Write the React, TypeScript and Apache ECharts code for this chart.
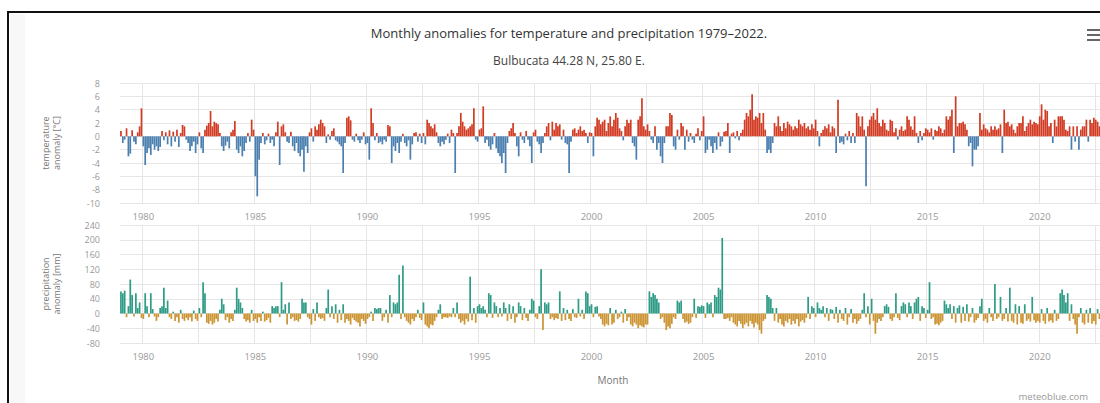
import React, { useEffect, useRef } from "react";
import * as echarts from "echarts";

const startYear = 1979;
const endYear = 2022;
const yearTickLabels = ["1980", "1985", "1990", "1995", "2000", "2005", "2010", "2015", "2020"];

const titleText = "Monthly anomalies for temperature and precipitation 1979\u20132022.";
const subtitleText = "Bulbucata 44.28 N, 25.80 E.";

// Monthly temperature anomaly [°C], Jan..Dec, one row per year 1979..2022
const tempAnomaly: number[] = [
  0.8, -1.0, -0.5, 1.2, -3.0, -2.6, 0.9, -0.8, -1.2, 0.6, 1.5, 4.2, // 1979
  -1.5, -4.3, -2.5, -1.8, -2.8, -1.2, -2.0, -1.5, -2.2, -1.6, 0.8, -0.6, // 1980
  0.6, -1.2, 0.9, -1.5, 0.7, -0.8, 1.0, -1.6, 0.5, 1.7, 1.5, -0.5, // 1981
  -1.0, -2.2, -1.5, -0.8, -2.5, -1.2, 0.6, -1.8, -2.5, 1.0, 1.6, 2.0, // 1982
  3.8, 1.5, 2.2, 2.0, 1.8, 0.5, -1.5, -2.2, -1.4, -0.8, -1.8, 0.6, // 1983
  1.0, 2.3, -2.0, -2.5, -1.5, -3.0, -2.2, -1.0, 0.5, -0.8, 2.5, 1.0, // 1984
  -6.0, -9.0, -3.5, -1.0, 0.5, -1.2, -0.6, 0.4, -1.0, -0.5, -1.5, 0.6, // 1985
  2.2, -4.3, 1.5, 1.8, 0.6, -0.8, -1.0, 0.7, -1.5, -2.2, -1.0, -2.5, // 1986
  -3.0, -2.0, -5.3, -1.5, -2.5, 0.6, 1.2, -0.8, 1.5, 1.0, 1.8, 2.5, // 1987
  2.0, 1.5, -1.0, 0.3, -0.5, 0.8, 1.2, -0.6, -0.8, -1.2, -1.5, -5.5, // 1988
  -1.0, 2.8, 3.0, 2.4, -0.5, -0.8, 0.4, -0.6, -1.0, -0.5, 0.6, -1.2, // 1989
  -1.0, -3.5, 4.2, 2.0, -0.6, 0.5, -1.0, -0.8, -1.2, -0.5, -0.8, 1.7, // 1990
  1.5, -4.0, -1.5, -2.2, -1.0, -2.5, -0.8, 0.4, -1.0, -1.5, -0.6, -3.5, // 1991
  -1.2, 0.5, 0.6, -0.8, 0.4, -1.0, 0.5, -1.2, 2.5, 2.0, 1.5, 1.2, // 1992
  1.8, 0.6, -1.0, -1.5, -0.8, -1.2, -0.5, 0.4, -1.0, 1.0, 0.5, -5.5, // 1993
  0.5, 1.5, 3.5, 2.2, 1.5, 1.0, 1.2, 1.5, 1.8, 4.2, -0.5, -0.8, // 1994
  1.0, 1.2, 4.5, -1.0, -0.5, -1.5, -2.0, -1.2, 0.5, -1.8, -2.5, -3.0, // 1995
  -4.0, -2.5, -5.5, -1.0, 0.8, 1.2, 2.0, 0.5, -1.5, -3.0, 0.6, -0.5, // 1996
  -1.0, 0.8, -0.5, -1.5, -4.0, 0.6, 1.0, -0.8, -1.2, -2.5, -1.0, 0.5, // 1997
  1.5, 2.0, -0.6, 2.2, 1.0, 2.0, 1.5, 1.8, -0.5, 1.0, -1.0, -1.2, // 1998
  -5.5, -0.8, 1.0, 1.2, 0.5, 1.0, 1.5, 0.8, 1.0, 0.5, -1.0, 0.6, // 1999
  0.5, -3.0, 1.5, 2.8, 2.5, 1.8, 2.2, 2.5, 0.8, 2.0, 3.0, 1.5, // 2000
  2.5, 3.5, 2.8, 1.2, 0.8, -0.6, 1.5, 2.5, 2.0, 2.5, -1.0, -1.5, // 2001
  -3.5, 2.5, 3.0, 5.7, 1.5, 1.0, 1.8, 0.8, -0.5, -1.0, 1.5, -2.0, // 2002
  -1.0, -3.0, -4.0, -1.0, 1.5, 1.5, 3.5, 3.2, -1.5, -2.0, 1.0, -0.5, // 2003
  2.0, 1.5, -2.0, 1.0, -0.8, 0.5, -0.5, -1.0, 0.4, 1.2, -0.6, 0.8, // 2004
  3.0, -2.5, -2.0, -0.5, -1.5, -2.5, -1.0, -2.0, 0.6, -1.5, -0.8, 0.7, // 2005
  0.8, 2.0, -2.5, 0.4, 0.6, -0.3, 0.8, -0.6, 0.5, 1.0, 2.5, 3.5, // 2006
  3.0, 4.0, 6.3, 2.5, 3.0, 2.8, 3.5, 2.0, 3.5, 1.0, -2.5, -2.0, // 2007
  -2.5, -1.0, 2.0, 1.5, 3.0, 1.5, 0.8, 2.0, 1.2, 2.2, 1.8, 1.5, // 2008
  1.0, 1.5, 1.2, 2.5, 1.8, 1.5, 2.0, 1.2, 1.5, 1.0, 1.8, 1.2, // 2009
  2.5, 0.8, -1.5, 0.5, 1.0, 1.5, 1.2, 1.8, 0.6, 1.5, 1.2, -2.5, // 2010
  5.5, -1.0, -0.8, -1.2, 0.4, -0.6, 0.8, -1.0, 0.5, -1.0, 3.5, 3.0, // 2011
  1.5, 3.0, 1.0, -7.5, 1.5, 2.5, 3.0, 3.5, 2.5, 4.2, 2.0, 1.5, // 2012
  2.5, 2.0, 1.0, 0.8, 2.5, 2.3, 0.6, 1.2, -0.5, 1.0, 1.5, 0.8, // 2013
  1.0, 3.0, 2.5, 1.5, 1.0, 3.0, 0.5, -1.0, 0.8, -0.6, 0.5, 1.2, // 2014
  1.0, 0.6, 1.2, -0.5, 1.0, 0.8, 1.5, 1.2, 0.5, 1.0, 3.0, 2.5, // 2015
  3.0, 4.0, -2.5, 6.0, 1.5, 2.0, 2.0, 2.2, 1.8, 1.0, -1.5, -1.0, // 2016
  -4.5, -2.0, -2.0, -1.5, 3.5, 1.0, 1.8, 1.2, 1.0, 0.6, 1.5, 1.0, // 2017
  1.5, 1.0, 1.2, 1.8, -2.5, 4.0, 2.0, 2.2, 1.5, 1.8, 1.0, 0.5, // 2018
  1.5, 2.0, 2.0, 3.0, 0.8, 1.5, 2.0, 2.5, 1.8, 2.2, 2.0, 1.8, // 2019
  3.0, 4.8, 2.5, 4.0, 3.8, 1.5, 2.0, -1.0, 2.5, 1.5, 3.0, 3.0, // 2020
  3.0, 2.5, 1.0, 0.8, 1.5, -2.0, 1.5, -0.8, 1.5, -2.0, 1.0, 1.5, // 2021
  1.5, 2.5, -0.8, 2.5, 2.0, 2.8, 2.5, 2.2, 1.5, 1.5, 1.0, 2.0, // 2022
];

// Monthly precipitation anomaly [mm], Jan..Dec, one row per year 1979..2022
const precipAnomaly: number[] = [
  60, 55, 62, -10, 20, 92, 50, -8, 55, 15, 30, -12, // 1979
  -15, 55, 20, -10, 55, 12, -8, -20, -10, 15, 20, 70, // 1980
  15, 35, -10, -15, 5, -20, -10, -25, 10, -15, -20, -12, // 1981
  -18, -10, -22, 8, -15, -20, 15, -10, 85, 55, -25, -28, // 1982
  -20, -30, -25, -15, -22, 10, 40, 25, -18, -10, -25, -15, // 1983
  -20, 10, 70, 40, 30, 15, -15, -22, -18, -25, 10, -20, // 1984
  -15, -25, -10, -20, 5, -22, -18, -12, -25, 20, 15, 20, // 1985
  20, -10, 85, 10, 25, -30, 30, -15, -10, -20, -18, -22, // 1986
  -15, 40, 30, 30, -10, -15, -30, 12, -20, 30, -10, -15, // 1987
  -12, -20, 15, 65, -10, 20, -15, 25, -25, 10, -18, 25, // 1988
  -25, -15, -20, -30, -12, -18, -22, -25, -35, -15, -20, -28, // 1989
  -15, -10, 5, -20, 15, 12, 15, 15, -20, -10, 10, -25, // 1990
  50, -10, 30, 25, 30, 105, -15, 130, -10, -20, -25, -30, // 1991
  -15, -20, -10, 10, -12, -18, 30, -30, -35, -40, -30, -32, // 1992
  -20, -10, 10, 25, -15, -10, -10, -12, -8, -10, 15, -10, // 1993
  30, -15, -25, -20, -30, -15, -22, 100, -18, 15, -25, 20, // 1994
  25, 15, 20, 10, -10, 55, 50, -12, 30, 20, -10, 15, // 1995
  -8, 30, 15, -20, 25, -15, 20, -25, -10, 30, 20, -18, // 1996
  15, -12, -20, 10, 40, 35, -10, -15, 20, 120, -45, 30, // 1997
  25, 30, -15, -10, -18, -12, -15, 60, -20, 15, -18, 10, // 1998
  -15, -20, 12, -10, -12, 40, -8, 10, -15, 60, 55, 20, // 1999
  25, -10, 18, 20, -8, -15, -30, -35, -28, -32, 15, -30, // 2000
  -25, 10, -15, -10, 5, -25, 12, -20, -10, -30, -35, -25, // 2001
  -30, -40, -32, -35, -38, -30, -30, 60, 45, 55, 50, 40, // 2002
  30, -15, -10, -25, -45, -35, -40, -28, -10, -15, 35, 30, // 2003
  35, -15, -25, -22, -28, -25, -10, 40, -12, 20, 18, 22, // 2004
  20, -12, 30, 25, 30, -10, 50, 45, 70, 65, 205, -15, // 2005
  -15, -12, -20, -10, -25, -30, -35, -20, -28, -40, -30, -25, // 2006
  -35, -20, -28, -38, -25, -30, -45, -55, -20, -15, 50, 45, // 2007
  40, 15, -20, 15, -25, -15, -30, -35, -20, -25, -15, -30, // 2008
  -20, -28, -15, -35, -22, -18, -25, -12, 45, -15, 20, 15, // 2009
  -10, 30, 15, 10, 20, -10, 15, -20, 12, 10, -15, 18, // 2010
  -25, 10, -15, -20, 15, -30, -10, 12, -25, -15, -28, -20, // 2011
  -15, 10, 55, -10, 20, -30, 40, -20, -55, -25, -15, -20, // 2012
  -10, 20, 25, 18, -15, -20, -10, 55, -12, -18, 20, 30, // 2013
  25, -10, 30, 20, -15, 30, 40, 45, -20, 20, 15, -12, // 2014
  10, 85, -15, -10, -30, -28, -32, -25, -20, 35, 25, 15, // 2015
  25, -15, 20, -25, 15, 22, -25, 18, -20, 25, -22, -10, // 2016
  15, -25, -18, -12, 20, 40, -20, -15, -25, 15, -10, -20, // 2017
  80, -15, -10, 45, -20, -15, 15, -22, 70, -20, -25, 25, // 2018
  -30, 20, -25, -28, 25, -20, -15, -22, 45, -18, -25, -20, // 2019
  -25, 12, -20, -28, 15, -22, -18, -25, 10, -20, -15, 55, // 2020
  65, 50, 30, 55, -20, 25, -15, -30, -55, -10, 15, -25, // 2021
  -30, 10, -25, 15, -28, -20, -30, 12, -15, -25, 20, -18, // 2022
];

const months: string[] = [];
for (let y = startYear; y <= endYear; y++) {
  for (let m = 1; m <= 12; m++) months.push(`${y}-${m < 10 ? "0" + m : m}`);
}

const FONT = '"Open Sans", "Noto Sans", sans-serif';
const RED = "#d23c24";
const BLUE = "#4a7fb0";
const GREEN = "#2f9c86";
const ORANGE = "#cc9433";
const GRID_COLOR = "#e6e6e6";

const isYearTick = (_i: number, v: string) =>
  v.slice(5) === "01" && yearTickLabels.indexOf(v.slice(0, 4)) >= 0;
const isSplit = (i: number) => i >= 12 && (i - 12) % 30 === 0;

function makeXAxis(gridIndex: number, withName: boolean): any {
  return {
    type: "category",
    gridIndex,
    data: months,
    boundaryGap: true,
    axisLine: { show: false },
    axisTick: { show: false },
    axisLabel: {
      interval: isYearTick,
      formatter: (v: string) => v.slice(0, 4),
      color: "#999",
      fontSize: 9.5,
      fontFamily: FONT,
      margin: 8,
    },
    splitLine: { show: true, interval: isSplit, lineStyle: { color: GRID_COLOR, width: 1 } },
    name: withName ? "Month" : "",
    nameLocation: "middle",
    nameGap: 32,
    nameTextStyle: { color: "#777", fontSize: 10, fontFamily: FONT },
  };
}

function makeYAxis(gridIndex: number, min: number, max: number, interval: number, name: string): any {
  return {
    type: "value",
    gridIndex,
    min,
    max,
    interval,
    axisLine: { show: false },
    axisTick: { show: false },
    axisLabel: { color: "#999", fontSize: 9, fontFamily: FONT, margin: 20 },
    splitLine: { show: true, lineStyle: { color: GRID_COLOR, width: 1 } },
    name,
    nameLocation: "middle",
    nameRotate: 90,
    nameGap: 58,
    nameTextStyle: { color: "#777", fontSize: 9, fontFamily: FONT, lineHeight: 11 },
  };
}

export default function App() {
  const ref = useRef<HTMLDivElement>(null);

  useEffect(() => {
    if (!ref.current) return;
    const chart = echarts.init(ref.current, undefined, { renderer: "svg" });
    const option: any = {
      animation: false,
      backgroundColor: "#ffffff",
      grid: [
        { left: 120, top: 83, width: 986, height: 120 },
        { left: 120, top: 225, width: 986, height: 118 },
      ],
      xAxis: [makeXAxis(0, false), makeXAxis(1, true)],
      yAxis: [
        makeYAxis(0, -10, 8, 2, "temperature\nanomaly [\u00b0C]"),
        makeYAxis(1, -80, 240, 40, "precipitation\nanomaly [mm]"),
      ],
      series: [
        {
          type: "bar",
          xAxisIndex: 0,
          yAxisIndex: 0,
          data: tempAnomaly,
          barCategoryGap: "8%",
          itemStyle: { color: (p: any) => (p.value >= 0 ? RED : BLUE) },
        },
        {
          type: "bar",
          xAxisIndex: 1,
          yAxisIndex: 1,
          data: precipAnomaly,
          barCategoryGap: "8%",
          itemStyle: { color: (p: any) => (p.value >= 0 ? GREEN : ORANGE) },
        },
      ],
      graphic: [
        { type: "rect", z: 0, shape: { x: 10, y: 14, width: 15, height: 400 }, style: { fill: "#f8f8f8" } },
        {
          type: "text",
          style: { text: titleText, x: 569, y: 33, align: "center", verticalAlign: "middle", fill: "#333", fontSize: 13, fontFamily: FONT },
        },
        {
          type: "text",
          style: { text: subtitleText, x: 569, y: 60, align: "center", verticalAlign: "middle", fill: "#444", fontSize: 12, fontFamily: FONT },
        },
        { type: "rect", shape: { x: 1087, y: 29, width: 13, height: 2 }, style: { fill: "#666" } },
        { type: "rect", shape: { x: 1087, y: 34, width: 13, height: 2 }, style: { fill: "#666" } },
        { type: "rect", shape: { x: 1087, y: 39, width: 13, height: 2 }, style: { fill: "#666" } },
        {
          type: "text",
          style: { text: "meteoblue.com", x: 1088, y: 396, align: "right", verticalAlign: "middle", fill: "#999", fontSize: 9.5, fontFamily: FONT },
        },
        { type: "rect", z: 100, shape: { x: 7, y: 11, width: 1200, height: 2 }, style: { fill: "#111" } },
        { type: "rect", z: 100, shape: { x: 7, y: 11, width: 2, height: 400 }, style: { fill: "#111" } },
      ],
    };
    chart.setOption(option);
    return () => chart.dispose();
  }, []);

  return (
    <div style={{ position: "fixed", left: 0, top: 0, width: 1100, height: 403, overflow: "hidden", background: "#fff" }}>
      <div ref={ref} style={{ position: "absolute", left: 0, top: 0, width: 1140, height: 403 }} />
    </div>
  );
}
